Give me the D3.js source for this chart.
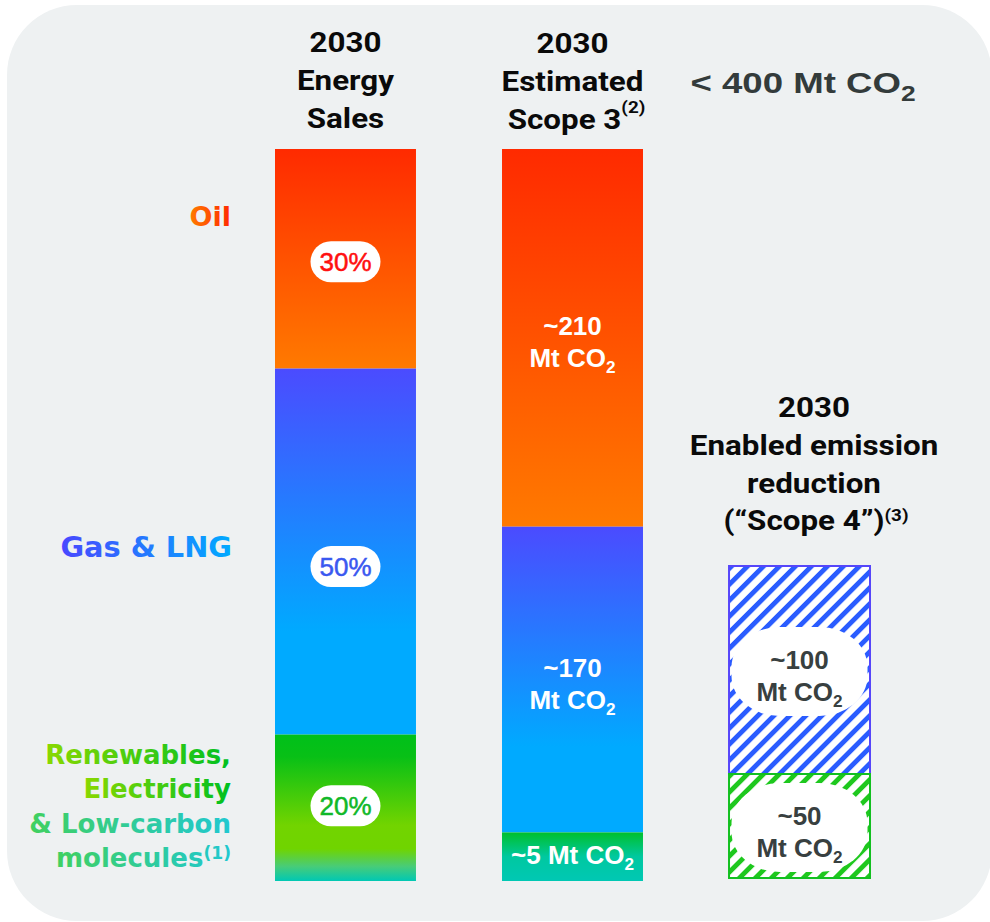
<!DOCTYPE html>
<html>
<head>
<meta charset="utf-8">
<script src="https://cdn.jsdelivr.net/npm/d3@7"></script>
<style>
body { margin: 0; background: #fff; }
svg { display: block; }
</style>
</head>
<body>
<div id="chart"></div>
<script>
// data
const categories = ["Oil", "Gas & LNG", "Renewables"];
const salesShare = [30, 50, 20];            // % of 2030 energy sales
const salesLabels = ["30%", "50%", "20%"];
const scope3 = [210, 170, 5];               // Mt CO2, estimated scope 3
const scope3Labels = ["~210", "~170", "~5"];
const scope4Cats = ["Gas & LNG", "Renewables"];
const scope4 = [100, 50];                   // Mt CO2, enabled reduction
const scope4Labels = ["~100", "~50"];
const columns = ["sales", "scope3", "scope4"];
const totalLabel = "< 400";

var width = 990, height = 922;

var svg = d3.select("#chart").append("svg")
	.attr("width", width)
	.attr("height", height);

var defs = svg.append("defs");

function gradient(id, stops, horizontal) {
	var g = defs.append("linearGradient")
		.attr("id", id)
		.attr("x1", 0).attr("y1", 0)
		.attr("x2", horizontal ? 1 : 0)
		.attr("y2", horizontal ? 0 : 1);
	stops.forEach(function (s) {
		g.append("stop").attr("offset", s[0]).attr("stop-color", s[1]);
	});
}

gradient("oil", [[0, "#ff2a00"], [1, "#ff7a00"]]);
gradient("gas", [[0, "#4b4bff"], [0.72, "#00aaff"], [1, "#00aaff"]]);
gradient("ren1", [[0, "#00c01a"], [0.15, "#08c016"], [0.62, "#72d400"], [0.78, "#70d400"], [0.9, "#48cc78"], [1, "#00c8b4"]]);
gradient("ren2", [[0, "#00c02c"], [0.5, "#00c8a0"], [1, "#00c8b4"]]);
gradient("oilText", [[0, "#ff7a00"], [1, "#ff2a00"]], true);
gradient("gasText", [[0, "#4848ff"], [1, "#00aaff"]], true);
gradient("renText1", [[0, "#8ad800"], [1, "#00c020"]], true);
gradient("renText2", [[0, "#40d060"], [1, "#20c8d0"]], true);

function hatch(id, color) {
	var p = defs.append("pattern")
		.attr("id", id)
		.attr("patternUnits", "userSpaceOnUse")
		.attr("width", 11.3)
		.attr("height", 11.3)
		.attr("patternTransform", "rotate(45)");
	p.append("rect").attr("width", 11.3).attr("height", 11.3).attr("fill", "#fff");
	p.append("rect").attr("width", 4.8).attr("height", 11.3).attr("fill", color);
}
hatch("hatchBlue", "#2a5cff");
hatch("hatchGreen", "#1ec81e");

// background panel
svg.append("rect")
	.attr("x", 7).attr("y", 5)
	.attr("width", 985).attr("height", 916)
	.attr("rx", 70)
	.attr("fill", "#eef1f2");

// text with sub / superscripts
function label(x, y, parts, o) {
	var t = svg.append("text")
		.attr("transform", "translate(" + x + "," + y + ") scale(" + (o.sx || 1) + ",1)")
		.attr("text-anchor", o.anchor || "middle")
		.attr("font-family", o.font)
		.attr("font-weight", o.weight || "bold")
		.attr("font-size", o.size)
		.attr("fill", o.fill);
	parts.forEach(function (p) {
		if (typeof p === "string") p = { t: p };
		var s = t.append("tspan").text(p.t);
		if (p.scale) s.attr("font-size", o.size * p.scale);
		if (p.dy) s.attr("dy", p.dy);
	});
	return t;
}

var x = d3.scaleBand()
	.domain(columns)
	.range([275, 870])
	.paddingInner(0.379)
	.paddingOuter(0);

// stack from the bottom: last category sits at the base
function stackUp(values) {
	var acc = 0, out = [];
	for (var i = values.length - 1; i >= 0; i--) {
		out[i] = { i: i, y0: acc, y1: acc + values[i] };
		acc += values[i];
	}
	return out;
}

var arial = "'Liberation Sans', Arial, sans-serif";
var roboto = "Roboto, sans-serif";
var dejavu = "'DejaVu Sans', sans-serif";

// ---- column 1: energy sales
var y1 = d3.scaleLinear().domain([0, d3.sum(salesShare)]).range([881, 149]);
var salesStack = stackUp(salesShare);
var fills1 = ["url(#oil)", "url(#gas)", "url(#ren1)"];

svg.selectAll("rect.sales")
	.data(salesStack)
	.enter()
	.append("rect")
	.attr("class", "sales")
	.attr("x", x("sales"))
	.attr("y", function (d) { return y1(d.y1); })
	.attr("width", x.bandwidth())
	.attr("height", function (d) { return y1(d.y0) - y1(d.y1); })
	.attr("fill", function (d) { return fills1[d.i]; });

var pillColors = ["#ff1010", "#3a58f0", "#10b828"];
var pillNudge = [3, 15, -2];
salesStack.forEach(function (d) {
	var cx = x("sales") + x.bandwidth() / 2;
	var mid = (y1(d.y0) + y1(d.y1)) / 2 + pillNudge[d.i];
	svg.append("rect")
		.attr("x", cx - 35).attr("y", mid - 20.5)
		.attr("width", 70).attr("height", 41)
		.attr("rx", 20.5)
		.attr("fill", "#fff");
	label(cx, mid + 9.5, [salesLabels[d.i]], { font: arial, weight: "normal", size: 26, fill: pillColors[d.i] })
		.attr("stroke", pillColors[d.i]).attr("stroke-width", 0.5);
});

// ---- column 2: scope 3 (tiny segment kept readable)
var shown = scope3.map(function (v) { return Math.max(v, 27); });
var y2 = d3.scaleLinear().domain([0, d3.sum(shown)]).range([881, 149]);
var scope3Stack = stackUp(shown);
var fills2 = ["url(#oil)", "url(#gas)", "url(#ren2)"];

svg.selectAll("rect.scope3")
	.data(scope3Stack)
	.enter()
	.append("rect")
	.attr("class", "scope3")
	.attr("x", x("scope3"))
	.attr("y", function (d) { return y2(d.y1); })
	.attr("width", x.bandwidth())
	.attr("height", function (d) { return y2(d.y0) - y2(d.y1); })
	.attr("fill", function (d) { return fills2[d.i]; });

var co2 = ["Mt CO", { t: "2", scale: 0.66, dy: 6 }];
scope3Stack.forEach(function (d) {
	var cx = x("scope3") + x.bandwidth() / 2;
	var mid = (y2(d.y0) + y2(d.y1)) / 2;
	var o = { font: arial, size: 26, fill: "#fff" };
	if (scope3[d.i] < 20) {
		label(cx, mid + 7, [scope3Labels[d.i] + " "].concat(co2), o);
	} else {
		label(cx, mid - 3, [scope3Labels[d.i]], o);
		label(cx, mid + 29, co2, o);
	}
});

// ---- column 3: enabled reduction ("scope 4")
var y3 = d3.scaleLinear().domain([0, d3.sum(scope4)]).range([878, 566]);
var scope4Stack = stackUp(scope4);
var hatchFill = ["url(#hatchBlue)", "url(#hatchGreen)"];
var hatchStroke = ["#5646fa", "#12c020"];

svg.selectAll("rect.scope4")
	.data(scope4Stack)
	.enter()
	.append("rect")
	.attr("class", "scope4")
	.attr("x", x("scope4"))
	.attr("y", function (d) { return y3(d.y1); })
	.attr("width", x.bandwidth())
	.attr("height", function (d) { return y3(d.y0) - y3(d.y1); })
	.attr("fill", function (d) { return hatchFill[d.i]; })
	.attr("stroke", function (d) { return hatchStroke[d.i]; })
	.attr("stroke-width", 2);

scope4Stack.forEach(function (d) {
	var cx = x("scope4") + x.bandwidth() / 2;
	var mid = (y3(d.y0) + y3(d.y1)) / 2;
	svg.append("rect")
		.attr("x", cx - 68).attr("y", mid - 43)
		.attr("width", 136).attr("height", 89)
		.attr("rx", 48).attr("ry", 40)
		.attr("fill", "#fff");
	var o = { font: arial, size: 26, fill: "#384040" };
	label(cx, mid - 1, [scope4Labels[d.i]], o);
	label(cx, mid + 31, co2, o);
});

// ---- left category labels
label(231, 226, ["Oil"], { font: dejavu, size: 27, fill: "url(#oilText)", anchor: "end" });
label(232, 557, ["Gas & LNG"], { font: dejavu, size: 28, fill: "url(#gasText)", anchor: "end", sx: 1.03 });
label(231, 764, ["Renewables,"], { font: dejavu, size: 26, fill: "url(#renText1)", anchor: "end" });
label(231, 798, ["Electricity"], { font: dejavu, size: 26, fill: "url(#renText1)", anchor: "end" });
label(231, 833, ["& Low-carbon"], { font: dejavu, size: 26, fill: "url(#renText2)", anchor: "end" });
label(231, 867, ["molecules", { t: "(1)", scale: 0.66, dy: -8 }], { font: dejavu, size: 26, fill: "url(#renText2)", anchor: "end" });

// ---- headers
var head = { font: roboto, size: 28, fill: "#0a0a0a", sx: 1.12 };
var c1 = x("sales") + x.bandwidth() / 2;
var c2 = x("scope3") + x.bandwidth() / 2;
label(c1, 52, ["2030"], head);
label(c1, 90, ["Energy"], head);
label(c1, 128, ["Sales"], head);
label(c2, 53, ["2030"], head);
label(c2, 91, ["Estimated"], head);
label(c2 + 4, 129, ["Scope 3", { t: "(2)", scale: 0.6, dy: -16 }], head);

label(803, 93, [totalLabel + " Mt CO", { t: "2", scale: 0.72, dy: 8 }],
	{ font: arial, size: 30, fill: "#333b3b", sx: 1.22 });

label(814, 417, ["2030"], head);
label(814, 455, ["Enabled emission"], head);
label(814, 493, ["reduction"], head);
label(816, 530, ["(\u201cScope 4\u201d)", { t: "(3)", scale: 0.6, dy: -9 }], head);
</script>
</body>
</html>
